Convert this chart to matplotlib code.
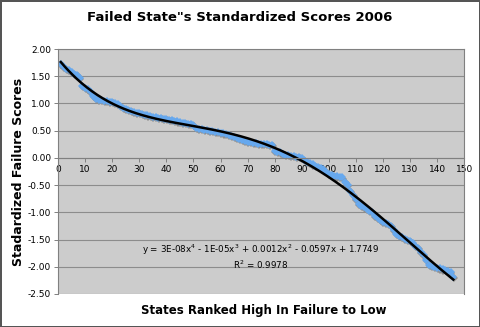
import numpy as np
import matplotlib
matplotlib.use("Agg")
import matplotlib.pyplot as plt

# -------------------------
# Standardized failure scores, ranked
# -------------------------

rank = list(range(1, 147))

scores = [
    1.72, 1.68, 1.64, 1.61, 1.58, 1.55, 1.52, 1.47, 1.32, 1.29,
    1.26, 1.22, 1.14, 1.09, 1.07, 1.06, 1.05, 1.04, 1.03, 1.02,
    1.01, 0.99, 0.95, 0.92, 0.90, 0.88, 0.86, 0.84, 0.83, 0.82,
    0.81, 0.79, 0.78, 0.77, 0.76, 0.75, 0.74, 0.73, 0.72, 0.71,
    0.70, 0.69, 0.68, 0.67, 0.66, 0.65, 0.64, 0.63, 0.62, 0.60,
    0.55, 0.54, 0.53, 0.52, 0.51, 0.50, 0.49, 0.48, 0.47, 0.46,
    0.45, 0.44, 0.43, 0.41, 0.39, 0.37, 0.35, 0.33, 0.31, 0.30,
    0.29, 0.28, 0.27, 0.26, 0.26, 0.25, 0.25, 0.24, 0.23, 0.12,
    0.11, 0.10, 0.08, 0.06, 0.05, 0.04, 0.03, 0.02, 0.01, 0.00,
    -0.03, -0.07, -0.10, -0.12, -0.14, -0.16, -0.18, -0.21, -0.25, -0.30,
    -0.32, -0.33, -0.34, -0.35, -0.36, -0.44, -0.50, -0.60, -0.68, -0.76,
    -0.84, -0.88, -0.91, -0.94, -0.97, -1.00, -1.06, -1.11, -1.14, -1.17,
    -1.20, -1.22, -1.25, -1.32, -1.39, -1.43, -1.46, -1.49, -1.51, -1.53,
    -1.56, -1.61, -1.66, -1.72, -1.79, -1.88, -1.97, -1.99, -2.00, -2.02,
    -2.03, -2.05, -2.06, -2.07, -2.09, -2.19,
]

x_ticks = list(range(0, 151, 10))
y_ticks = [2.0, 1.5, 1.0, 0.5, 0.0, -0.5, -1.0, -1.5, -2.0, -2.5]

equation = ("y = 3E-08x$^{4}$ - 1E-05x$^{3}$ + 0.0012x$^{2}$ - 0.0597x + 1.7749\n"
            "R$^{2}$ = 0.9978")

# 4th order polynomial trendline
coef = np.polyfit(rank, scores, 4)
xs = np.linspace(rank[0], rank[-1], 300)
ys = np.polyval(coef, xs)

# -------------------------
# Plot
# -------------------------

fig = plt.figure(figsize=(4.8, 3.27), dpi=100)
fig.patch.set_facecolor("white")
fig.patch.set_edgecolor("#555555")
fig.patch.set_linewidth(2)

ax = fig.add_axes([0.121, 0.101, 0.846, 0.749])
ax.set_facecolor("#CCCCCC")

# soft shadow under the markers, then the markers
ax.plot(rank, scores, linestyle="none", marker="D", markersize=3.8,
        color="#8F8F8F", markeredgewidth=0,
        transform=ax.transData + matplotlib.transforms.ScaledTranslation(
            0.4 / 72, -0.8 / 72, fig.dpi_scale_trans))
ax.plot(rank, scores, linestyle="none", marker="D", markersize=3.8,
        color="#66A8EE", markeredgewidth=0)
ax.plot(xs, ys, color="black", linewidth=1.8)

ax.set_xlim(0, 150)
ax.set_ylim(-2.5, 2.0)
ax.set_xticks(x_ticks)
ax.set_yticks(y_ticks)
ax.yaxis.set_major_formatter(matplotlib.ticker.FormatStrFormatter("%.2f"))

ax.grid(axis="y", color="#8C8C8C", linewidth=0.8)
ax.set_axisbelow(True)

for side in ["top", "right", "left"]:
    ax.spines[side].set_color("#808080")
    ax.spines[side].set_linewidth(0.8)
ax.spines["bottom"].set_position(("data", 0))
ax.spines["bottom"].set_color("#808080")
ax.spines["bottom"].set_linewidth(0.8)

ax.tick_params(axis="both", labelsize=6.5, colors="#808080", labelcolor="black",
               length=3, width=0.7, direction="out", pad=2)

ax.text(75, -1.82, equation, fontsize=6.3, ha="center", va="center",
        linespacing=1.1)

fig.text(0.5, 0.948, "Failed State\"s Standardized Scores 2006",
         ha="center", va="center", fontsize=9.5, fontweight="bold")
fig.text(0.55, 0.05, "States Ranked High In Failure to Low",
         ha="center", va="center", fontsize=8.5, fontweight="bold")
fig.text(0.038, 0.475, "Stadardized Failure Scores", rotation=90,
         ha="center", va="center", fontsize=9, fontweight="bold")

fig.savefig("out.png", dpi=100)
